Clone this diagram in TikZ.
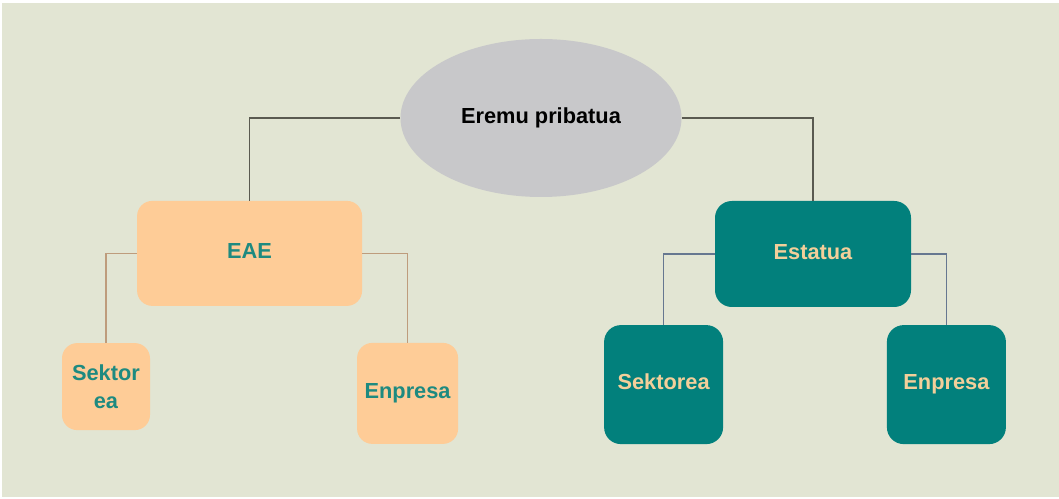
\documentclass[tikz,border=0pt]{standalone}
\usepackage{fontspec}
\setmainfont{Liberation Sans}
\usetikzlibrary{shapes.geometric}

\definecolor{panelbg}{HTML}{E2E5D3}
\definecolor{ovalgrey}{HTML}{C8C8CA}
\definecolor{peach}{HTML}{FECC97}
\definecolor{darkteal}{HTML}{02807C}
\definecolor{tealtext}{HTML}{1E8A80}
\definecolor{peachtext}{HTML}{F3CF9A}
\definecolor{rootline}{HTML}{5A5A50}
\definecolor{eaeline}{HTML}{BE9C7C}
\definecolor{statline}{HTML}{667790}

\tikzset{
    boxfont/.style={font=\fontsize{15.5}{20}\selectfont\bfseries},
    peachbox/.style={boxfont, fill=peach, text=tealtext, rounded corners=0.38cm, align=center, inner sep=0pt},
    tealbox/.style={boxfont, fill=darkteal, text=peachtext, rounded corners=0.42cm, align=center, inner sep=0pt},
    nodepth/.style={text height=0.72em, text depth=0pt},
    link/.style={line width=1.2pt}
}

\begin{document}
\begin{tikzpicture}
    % Background panel
    \useasboundingbox (0, 0) rectangle (26.475, 12.475);
    \fill[white] (0, 0) rectangle (26.475, 12.475);
    \fill[panelbg] (0.05, 0.05) rectangle (26.475, 12.4);

    % Draw the top oval
    \node[ellipse, fill=ovalgrey, minimum width=7.025cm, minimum height=3.95cm, boxfont, nodepth] (top) at (13.525, 9.525) {Eremu pribatua};

    % Draw the two middle boxes
    \node[peachbox, nodepth, minimum width=5.625cm, minimum height=2.625cm] (eae) at (6.24, 6.14) {EAE};
    \node[tealbox, nodepth, minimum width=4.9cm, minimum height=2.65cm] (estatua) at (20.325, 6.125) {Estatua};

    % Draw the bottom boxes
    \node[peachbox, minimum width=2.2cm, minimum height=2.175cm] (sektor) at (2.65, 2.81) {Sektor\\ea};
    \node[peachbox, nodepth, minimum width=2.525cm, minimum height=2.525cm] (enpresaA) at (10.19, 2.64) {Enpresa};
    \node[tealbox, nodepth, minimum width=2.975cm, minimum height=2.975cm] (sektorea) at (16.59, 2.86) {Sektorea};
    \node[tealbox, nodepth, minimum width=2.975cm, minimum height=2.975cm] (enpresaB) at (23.66, 2.86) {Enpresa};

    % Draw the branches
    \draw[link, rootline] (top.west) -| (eae.north);
    \draw[link, rootline] (top.east) -| (estatua.north);
    \draw[link, eaeline] (eae.west) -| (sektor.north);
    \draw[link, eaeline] (eae.east) -| (enpresaA.north);
    \draw[link, statline] (estatua.west) -| (sektorea.north);
    \draw[link, statline] (estatua.east) -| (enpresaB.north);
\end{tikzpicture}
\end{document}
